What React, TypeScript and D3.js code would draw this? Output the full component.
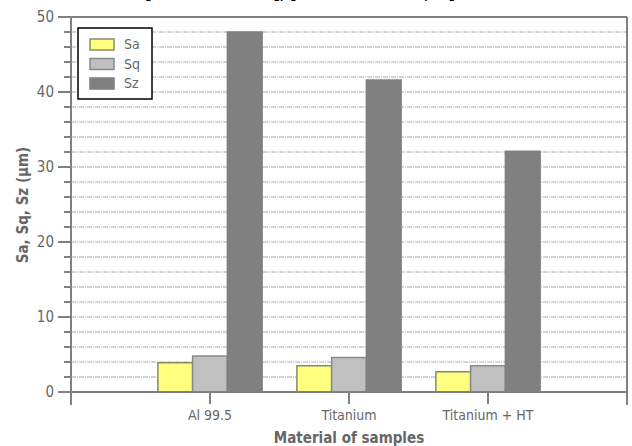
import React from "react";
import * as d3 from "d3";

const categories = ["Al 99.5", "Titanium", "Titanium + HT"];
const seriesNames = ["Sa", "Sq", "Sz"];
const saValues = [3.9, 3.5, 2.7];
const sqValues = [4.8, 4.6, 3.5];
const szValues = [48.0, 41.6, 32.1];
const yTicks = [0, 10, 20, 30, 40, 50];
const yMinorTicks = [2, 4, 6, 8, 12, 14, 16, 18, 22, 24, 26, 28, 32, 34, 36, 38, 42, 44, 46, 48];
const seriesFills = ["#ffff80", "#c0c0c0", "#808080"];
const seriesStrokes = ["#8a8a6a", "#8a8a8a", "#808080"];

const W = 632;
const H = 446;
const left = 71;
const right = 627;
const top = 17;
const bottom = 392;
const axisColor = "#808080";
const textColor = "#666666";
const font = "'DejaVu Sans Condensed', 'DejaVu Sans', Verdana, sans-serif";

export default function App() {
  const x = d3.scaleLinear().domain([0, categories.length + 1]).range([left, right]);
  const y = d3.scaleLinear().domain([0, 50]).range([bottom, top]);
  const series = [saValues, sqValues, szValues];
  const barW = x(0.25) - x(0);

  return (
    <svg width={W} height={H} style={{ position: "absolute", left: 0, top: 0, background: "#fff" }}>
      {/* clipped title */}
      <text x={145} y={-2.5} fontFamily={font} fontWeight="bold" fontSize={22} fill="#000" textLength={310} lengthAdjust="spacingAndGlyphs">
        [Surface texture], [Material treated, Ti]
      </text>
      {/* gridlines */}
      {[...yMinorTicks, 10, 20, 30, 40].map((t) => (
        <line key={"g" + t} x1={left} x2={right} y1={y(t)} y2={y(t)} stroke="#a8a8a8" strokeWidth={1} strokeDasharray="5,1,1,1" />
      ))}
      {/* bars */}
      {categories.map((c, i) =>
        series.map((vals, s) => {
          const x0 = x(i + 1) - 1.5 * barW + s * barW;
          return (
            <rect key={c + s} x={x0} y={y(vals[i])} width={barW} height={y(0) - y(vals[i])}
              fill={seriesFills[s]} stroke={seriesStrokes[s]} strokeWidth={1.5} />
          );
        })
      )}
      {/* frame */}
      <line x1={58} x2={right} y1={top} y2={top} stroke={axisColor} strokeWidth={2} />
      <line x1={right} x2={right} y1={top} y2={bottom + 13} stroke={axisColor} strokeWidth={2} />
      <line x1={left} x2={left} y1={top} y2={bottom + 13} stroke={axisColor} strokeWidth={2} />
      <line x1={58} x2={right} y1={bottom} y2={bottom} stroke={axisColor} strokeWidth={2} />
      {/* y ticks */}
      {yTicks.map((t) => (
        <g key={"t" + t}>
          <line x1={58} x2={left} y1={y(t)} y2={y(t)} stroke={axisColor} strokeWidth={2} />
          <text x={54} y={y(t)} dy="0.35em" textAnchor="end" fontFamily={font} fontSize={15} fill={textColor}>{t}</text>
        </g>
      ))}
      {yMinorTicks.map((t) => (
        <line key={"m" + t} x1={64} x2={left} y1={y(t)} y2={y(t)} stroke={axisColor} strokeWidth={2} />
      ))}
      {/* x ticks */}
      {categories.map((c, i) => (
        <g key={"x" + c}>
          <line x1={x(i + 1)} x2={x(i + 1)} y1={bottom} y2={bottom + 12} stroke={axisColor} strokeWidth={2} />
          <text x={x(i + 1)} y={bottom + 28} textAnchor="middle" fontFamily={font} fontSize={14} fill={textColor}>{c}</text>
        </g>
      ))}
      {/* axis titles */}
      <text x={(left + right) / 2} y={443} textAnchor="middle" fontFamily={font} fontWeight="bold" fontSize={15} fill={textColor}>Material of samples</text>
      <text transform={`translate(28, 205) rotate(-90)`} textAnchor="middle" fontFamily={font} fontWeight="bold" fontSize={15} fill={textColor}>Sa, Sq, Sz (µm)</text>
      {/* legend */}
      <rect x={78} y={28} width={74} height={71} fill="#fff" stroke="#000" strokeWidth={1.5} />
      {seriesNames.map((n, s) => (
        <g key={"l" + n}>
          <rect x={90} y={39 + s * 19.5} width={24} height={11} fill={seriesFills[s]} stroke={seriesStrokes[s]} strokeWidth={1.5} />
          <text x={124} y={44.5 + s * 19.5} dy="0.35em" fontFamily={font} fontSize={14} fill={textColor}>{n}</text>
        </g>
      ))}
    </svg>
  );
}
